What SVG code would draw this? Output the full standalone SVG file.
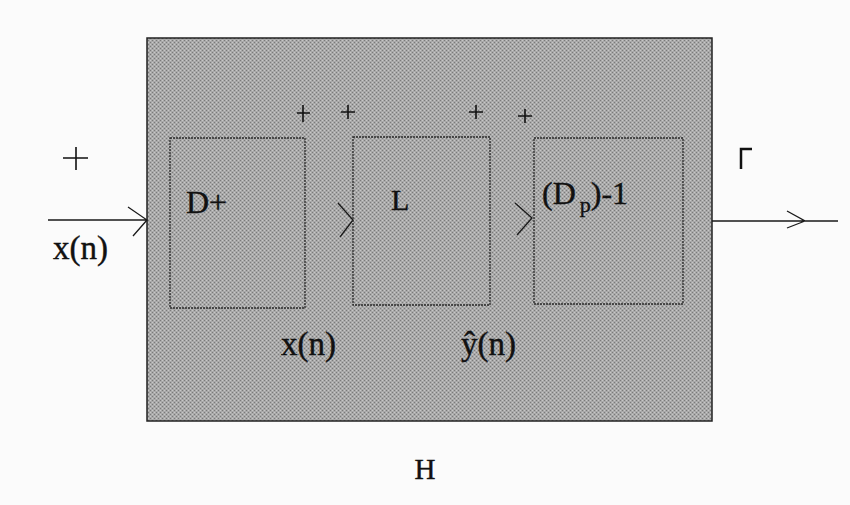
<svg xmlns="http://www.w3.org/2000/svg" width="850" height="505" viewBox="0 0 850 505">
<defs>
<style>
.t{font-family:"Liberation Serif","Times New Roman",serif;fill:#111;stroke:#111;stroke-width:0.4}
.box{fill:none;stroke:#2a2a2a;stroke-width:1.3;stroke-dasharray:2,1}
.ln{fill:none;stroke:#1a1a1a;stroke-width:1.3}
.pl{stroke:#111;stroke-width:1.6}
</style>
<pattern id="dither" width="4" height="4" patternUnits="userSpaceOnUse">
<rect width="4" height="4" fill="#a9a9a9"/>
<rect x="0" y="0" width="1" height="1" fill="#7a7a7a"/>
<rect x="2" y="2" width="1" height="1" fill="#7a7a7a"/>
<rect x="2" y="0" width="1" height="1" fill="#c8c8c8"/>
<rect x="0" y="2" width="1" height="1" fill="#c8c8c8"/>
</pattern>
</defs>
<rect width="850" height="505" fill="#fbfbfb"/>
<g id="H">
<rect x="147" y="38" width="565" height="383" fill="url(#dither)" stroke="#222" stroke-width="1.5"/>
<text class="t" x="425" y="479" font-size="29" text-anchor="middle">H</text>
</g>
<g id="connectors">
<path class="ln" d="M48,220 H147 M128,207 L147,220 L133,236"/>
<path class="ln" d="M338,203 L353,220 L340,237"/>
<path class="ln" d="M515,203 L532,218 L517,235"/>
<path class="ln" d="M712,221 H838 M787,211 L805,221 L787,228"/>
</g>
<g id="D">
<rect class="box" x="170" y="138" width="135" height="170"/>
<text class="t" x="186" y="213" font-size="32">D+</text>
</g>
<g id="L">
<rect class="box" x="353" y="137" width="137" height="168"/>
<text class="t" x="391" y="210" font-size="30">L</text>
</g>
<g id="Dinv">
<rect class="box" x="534" y="138" width="149" height="166"/>
<text class="t" x="542" y="204" font-size="32">(D<tspan font-size="22" dx="4" dy="8">p</tspan><tspan dy="-8">)-1</tspan></text>
</g>
<g id="labels">
<text class="t" x="53" y="259" font-size="33">x(n)</text>
<text class="t" x="281" y="355" font-size="33">x(n)</text>
<text class="t" x="461" y="355" font-size="33">ŷ(n)</text>
<path class="pl" d="M63,158 H88 M76,147 V170"/>
<path class="pl" d="M297,113 H310 M303,105 V122"/>
<path class="pl" d="M341,112 H355 M348,105 V119"/>
<path class="pl" d="M469,112 H483 M476,105 V119"/>
<path class="pl" d="M518,116 H532 M525,109 V123"/>
<path d="M741,169 V149 H752" fill="none" stroke="#111" stroke-width="2.5"/>
</g>
</svg>
